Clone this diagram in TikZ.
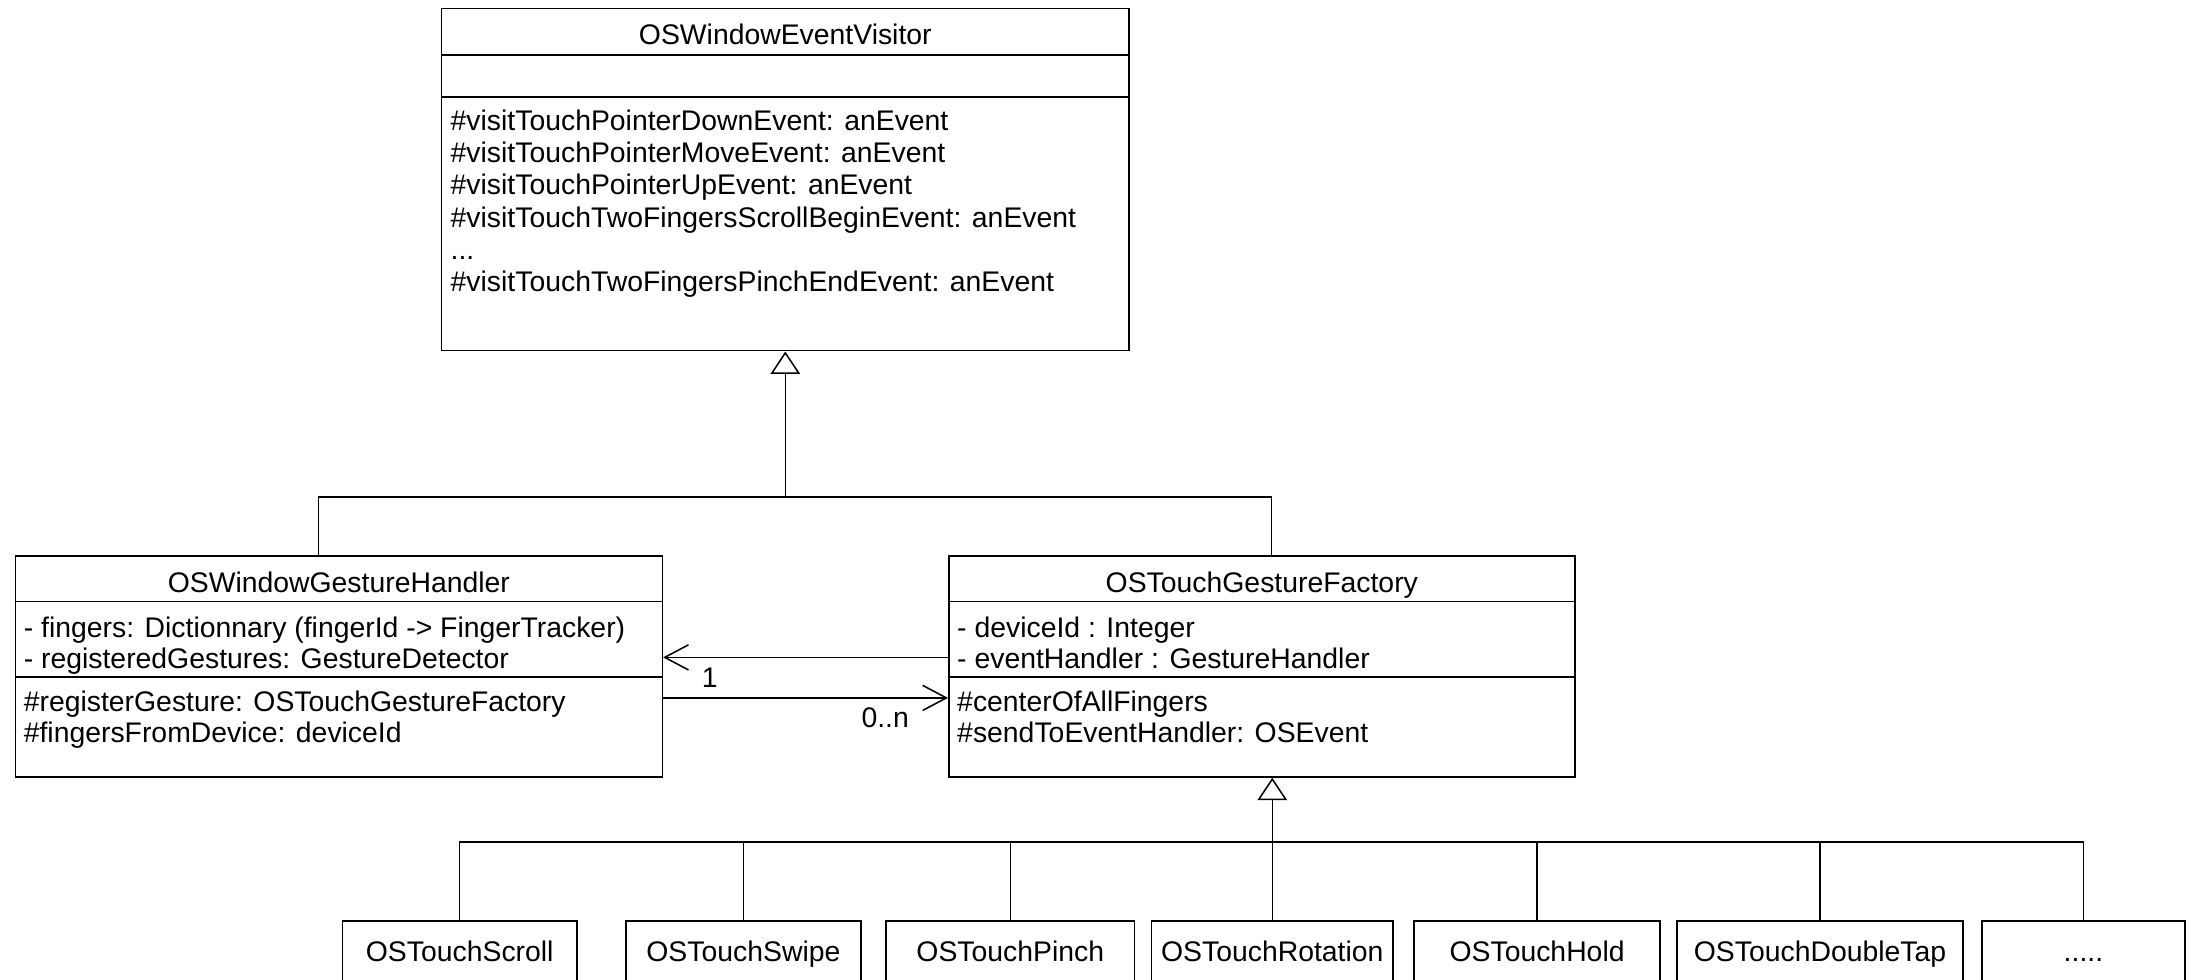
\documentclass[tikz,border=0pt]{standalone}
\usepackage{fontspec}
\setmainfont{Liberation Sans}
\usetikzlibrary{arrows.meta, calc, fit}

\begin{document}
\begin{tikzpicture}[x=0.5pt, y=-0.5pt, line width=0.55pt,
  font=\fontsize{10.15}{12}\selectfont,
  cls/.style={draw, inner sep=0pt},
  ttl/.style={anchor=base, inner sep=0pt},
  memb/.style={anchor=base west, inner sep=0pt},
  sub/.style={draw, inner sep=0pt, minimum height=22pt, text height=7.27pt, text depth=0pt},
  card/.style={inner sep=0pt},
  gen/.style={-{Triangle[open, length=8pt, width=10.5pt]}},
  nav/.style={-{Straight Barb[length=8.5pt, width=9pt]}}]

\useasboundingbox (0,0) rectangle (1568,701);

% visitor
\node[cls, fit={(316,6) (808,251)}] (visitor) {};
\draw ($(visitor.north west)+(0,34)$) -- ($(visitor.north east)+(0,34)$);
\draw ($(visitor.north west)+(0,64)$) -- ($(visitor.north east)+(0,64)$);
\node[ttl] (visitor-title) at (562,32.2) {OSWindowEventVisitor};
\node[memb] (visitor-m1) at (322,93.2) {\#visitTouchPointerDownEvent: anEvent};
\node[memb] (visitor-m2) at (322,116.3) {\#visitTouchPointerMoveEvent: anEvent};
\node[memb] (visitor-m3) at (322,139.4) {\#visitTouchPointerUpEvent: anEvent};
\node[memb] (visitor-m4) at (322,162.5) {\#visitTouchTwoFingersScrollBeginEvent: anEvent};
\node[memb] (visitor-m5) at (322,185.6) {...};
\node[memb] (visitor-m6) at (322,208.7) {\#visitTouchTwoFingersPinchEndEvent: anEvent};

% gesture handler
\node[cls, fit={(11,398) (474,556)}] (gest) {};
\draw ($(gest.north west)+(0,33)$) -- ($(gest.north east)+(0,33)$);
\draw ($(gest.north west)+(0,87)$) -- ($(gest.north east)+(0,87)$);
\node[ttl] (gest-title) at (242.5,424.2) {OSWindowGestureHandler};
\node[memb] (gest-a1) at (16.5,456.2) {- fingers: Dictionnary (fingerId -> FingerTracker)};
\node[memb] (gest-a2) at (16.5,478.2) {- registeredGestures: GestureDetector};
\node[memb] (gest-m1) at (16.5,509.2) {\#registerGesture: OSTouchGestureFactory};
\node[memb] (gest-m2) at (16.5,531.2) {\#fingersFromDevice: deviceId};

% gesture factory
\node[cls, fit={(679,398) (1127,556)}] (factory) {};
\draw ($(factory.north west)+(0,33)$) -- ($(factory.north east)+(0,33)$);
\draw ($(factory.north west)+(0,87)$) -- ($(factory.north east)+(0,87)$);
\node[ttl] (factory-title) at (903,424.2) {OSTouchGestureFactory};
\node[memb] (factory-a1) at (684.5,456.2) {- deviceId : Integer};
\node[memb] (factory-a2) at (684.5,478.2) {- eventHandler : GestureHandler};
\node[memb] (factory-m1) at (684.5,509.2) {\#centerOfAllFingers};
\node[memb] (factory-m2) at (684.5,531.2) {\#sendToEventHandler: OSEvent};

% gestures
\node[sub, minimum width=84pt] (scroll) at (329,681) {OSTouchScroll};
\node[sub, minimum width=84pt] (swipe) at (532,681) {OSTouchSwipe};
\node[sub, minimum width=89pt] (pinch) at (723,681) {OSTouchPinch};
\node[sub, minimum width=86.5pt] (rotation) at (910.5,681) {OSTouchRotation};
\node[sub, minimum width=88pt] (hold) at (1100,681) {OSTouchHold};
\node[sub, minimum width=102.5pt] (doubletap) at (1302.5,681) {OSTouchDoubleTap};
\node[sub, minimum width=72.5pt] (more) at (1491,681) {.....};

% inheritance
\coordinate (gbar) at ($(visitor.south)+(0,104)$);
\draw[gen] (gbar) -- (visitor.south);
\draw ($(gest.north west)+(217.5,0)$) |- (gbar) -| ($(factory.north west)+(231.5,0)$);

\coordinate (sbar) at ($(factory.south)+(7.5,46)$);
\draw[gen] (sbar) -- ($(factory.south)+(7.5,0)$);
\draw (scroll.north) |- (sbar) -| (more.north);
\foreach \g in {swipe, pinch, rotation, hold, doubletap}
  \draw (\g.north) -- (\g.north |- sbar);

% associations
\draw[nav] ($(factory.north west)+(0,73)$) -- ($(gest.north east)+(0,73)$);
\draw[nav] ($(gest.north west)+(463,102)$) -- ($(factory.north west)+(0,102)$);
\node[card] (one) at (508,485) {1};
\node[card] (many) at (633.5,513.5) {0..n};

\end{tikzpicture}
\end{document}
